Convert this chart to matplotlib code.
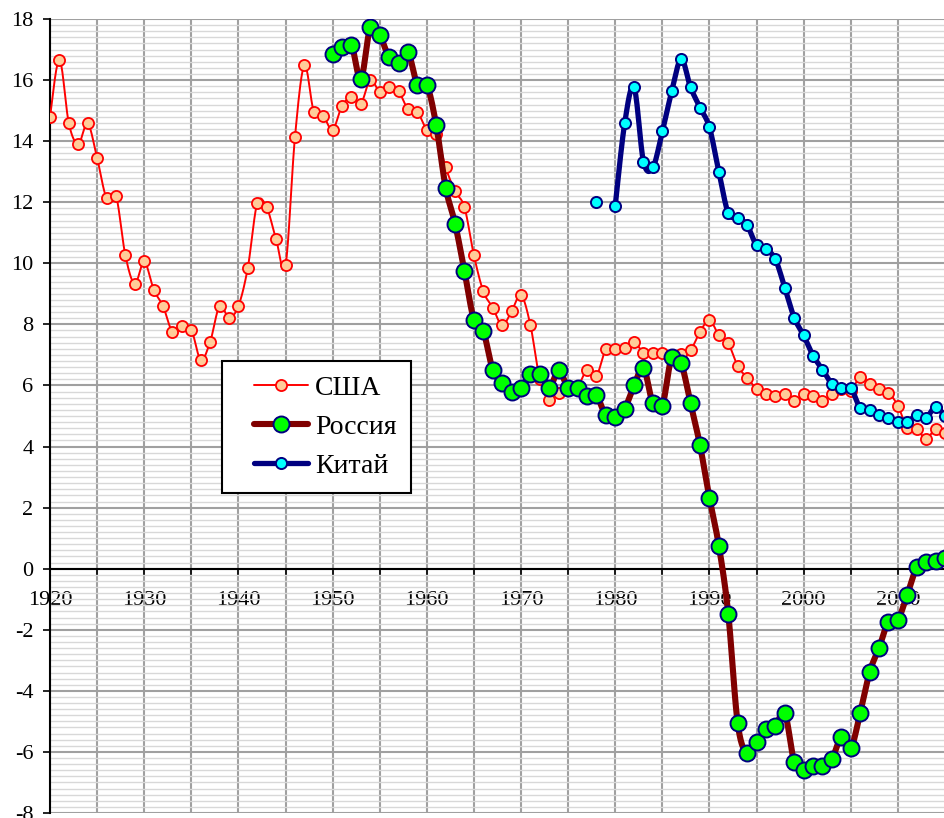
import numpy as np
import matplotlib
matplotlib.use("Agg")
import matplotlib.pyplot as plt
from matplotlib.lines import Line2D
from matplotlib.legend_handler import HandlerLine2D

plt.rcParams['font.family'] = ['Liberation Serif', 'DejaVu Serif']
plt.rcParams['axes.unicode_minus'] = False

# ---------------- data ----------------
years = list(range(1920, 2016))

usa = [14.8, 16.67, 14.58, 13.91, 14.58, 13.45, 12.14, 12.22, 10.26, 9.33,
       10.06, 9.14, 8.6, 7.76, 7.96, 7.83, 6.84, 7.43, 8.6, 8.22,
       8.6, 9.86, 11.97, 11.83, 10.79, 9.93, 14.12, 16.48, 14.97, 14.83,
       14.37, 15.16, 15.43, 15.23, 16.01, 15.62, 15.76, 15.63, 15.05, 14.96,
       14.37, 14.23, 13.14, 12.36, 11.83, 10.26, 9.08, 8.55, 7.97, 8.43,
       8.96, 7.97, 6.2, 5.54, 5.74, 5.85, 5.95, 6.5, 6.31, 7.18,
       7.2, 7.24, 7.43, 7.07, 7.07, 7.07, 7.0, 7.02, 7.16, 7.76,
       8.15, 7.64, 7.38, 6.64, 6.25, 5.89, 5.73, 5.67, 5.73, 5.48,
       5.73, 5.67, 5.48, 5.73, 5.9, 5.83, 6.27, 6.06, 5.87, 5.76,
       5.34, 4.61, 4.58, 4.25, 4.58, 4.43]

nan = np.nan
russia = [nan] * 30 + [
    16.87, 17.07, 17.15, 16.03, 17.73, 17.48, 16.74, 16.55, 16.91, 15.84,
    15.84, 14.52, 12.48, 11.3, 9.74, 8.15, 7.77, 6.52, 6.07, 5.79,
    5.92, 6.38, 6.38, 5.92, 6.49, 5.92, 5.92, 5.67, 5.68, 5.02,
    4.96, 5.24, 6.0, 6.58, 5.41, 5.34, 6.93, 6.72, 5.41, 4.04,
    2.32, 0.75, -1.48, -5.06, -6.04, -5.66, -5.26, -5.14, -4.73, -6.32,
    -6.59, -6.46, -6.46, -6.24, -5.52, -5.88, -4.73, -3.39, -2.6, -1.73,
    -1.67, -0.85, 0.04, 0.21, 0.24, 0.35]

china = [nan] * 58 + [
    12.02, nan,
    11.88, 14.58, 15.76, 13.33, 13.14, 14.32, 15.63, 16.69, 15.76, 15.1,
    14.45, 13.0, 11.64, 11.5, 11.25, 10.59, 10.46, 10.13, 9.2, 8.22,
    7.64, 6.98, 6.52, 6.06, 5.92, 5.92, 5.27, 5.21, 5.02, 4.94,
    4.81, 4.81, 5.02, 4.94, 5.3, 4.99]

labels = ['США', 'Россия', 'Китай']
xtick_years = list(range(1920, 2015, 5))
yticks = list(range(-8, 19, 2))


# ------------- smoothing (Excel-like Catmull-Rom) -------------
def smooth_segments(x, y, n=16):
    x = np.asarray(x, float)
    y = np.asarray(y, float)
    ok = ~np.isnan(y)
    segs = []
    i = 0
    N = len(x)
    while i < N:
        if not ok[i]:
            i += 1
            continue
        j = i
        while j + 1 < N and ok[j + 1]:
            j += 1
        segs.append((x[i:j + 1], y[i:j + 1]))
        i = j + 1
    out = []
    for sx, sy in segs:
        if len(sx) < 2:
            continue
        P = np.column_stack([sx, sy])
        m = len(P)
        xs, ys = [], []
        for k in range(m - 1):
            p0 = P[k - 1] if k > 0 else P[k]
            p1 = P[k]
            p2 = P[k + 1]
            p3 = P[k + 2] if k + 2 < m else P[k + 1]
            c1 = p1 + (p2 - p0) / 6.0
            c2 = p2 - (p3 - p1) / 6.0
            t = np.linspace(0, 1, n, endpoint=(k == m - 2))
            b = ((1 - t) ** 3)[:, None] * p1 + (3 * (1 - t) ** 2 * t)[:, None] * c1 \
                + (3 * (1 - t) * t ** 2)[:, None] * c2 + (t ** 3)[:, None] * p2
            xs.extend(b[:, 0]); ys.extend(b[:, 1])
        out.append((np.array(xs), np.array(ys)))
    return out


class ShiftedHandler(HandlerLine2D):
    """Legend handle whose line starts a bit to the right inside its box."""
    def __init__(self, shift_px=13, **kw):
        super().__init__(**kw)
        self.shift_px = shift_px

    def get_xdata(self, legend, xdescent, ydescent, width, height, fontsize):
        x0 = -xdescent + self.shift_px
        x1 = -xdescent + width
        xdata = np.array([x0, x1])
        return xdata, np.array([(x0 + x1) / 2.0])


# ---------------- figure ----------------
fig = plt.figure(figsize=(9.44, 8.18), dpi=100)
fig.patch.set_facecolor('white')
ax = fig.add_axes([50 / 944, 5 / 818, 894 / 944, 794 / 818])

ax.set_xlim(1920, 2014.9)
ax.set_ylim(-8, 18)

styles = {
    'США': dict(lc='#ff0000', lw=1.4, mfc='#ffcc99', mec='#ff0000', ms=8, mew=1.3, z=3),
    'Россия': dict(lc='#800000', lw=4.4, mfc='#00ff00', mec='#000080', ms=11.5, mew=1.4, z=4),
    'Китай': dict(lc='#000080', lw=3.8, mfc='#00ffff', mec='#000080', ms=8, mew=1.4, z=5),
}

for name, data in zip(labels, [usa, russia, china]):
    s = styles[name]
    for sx, sy in smooth_segments(years, data):
        ax.plot(sx, sy, color=s['lc'], lw=s['lw'], zorder=s['z'],
                solid_capstyle='round', solid_joinstyle='round')
    ax.plot(years, data, linestyle='none', marker='o', ms=s['ms'],
            mfc=s['mfc'], mec=s['mec'], mew=s['mew'], zorder=s['z'] + 0.5)

# grid
ax.set_yticks(yticks)
ax.set_yticks(np.arange(-8, 18.01, 0.2), minor=True)
ax.set_xticks(xtick_years)
ax.set_xticklabels([str(y) if y % 10 == 0 else '' for y in xtick_years])
ax.grid(which='major', color='#a0a0a0', lw=1.5, zorder=0)
ax.grid(which='minor', axis='y', color='#d8d8d8', lw=1.0, zorder=0)
ax.set_axisbelow(True)

# spines
for sp in ['top', 'right']:
    ax.spines[sp].set_visible(False)
ax.spines['bottom'].set_position(('data', 0))
ax.spines['bottom'].set_linewidth(1.5)
ax.spines['left'].set_linewidth(1.5)
ax.spines['bottom'].set_zorder(2.5)

ax.tick_params(axis='y', which='major', direction='out', length=5, width=1.2,
               pad=7, labelsize=16, colors='black')
ax.tick_params(axis='y', which='minor', length=0)
ax.tick_params(axis='x', which='major', direction='out', length=4, width=1.2,
               pad=12, labelsize=16, colors='black')

# legend
handles = []
for name in labels:
    s = styles[name]
    handles.append(Line2D([0], [0], color=s['lc'], lw=s['lw'], marker='o',
                          ms=s['ms'], mfc=s['mfc'], mec=s['mec'], mew=s['mew'],
                          solid_capstyle='round'))
leg = ax.legend(handles, labels, loc='upper left', bbox_to_anchor=(0.1924, 0.569),
                borderaxespad=0, frameon=True, fancybox=False, framealpha=1,
                edgecolor='black', prop={'family': 'Liberation Serif', 'size': 20},
                handlelength=2.6, handletextpad=0.26, borderpad=0.5, labelspacing=0.5,
                handler_map={Line2D: ShiftedHandler(shift_px=13)})
leg.get_frame().set_linewidth(1.5)
leg.set_zorder(10)

fig.savefig('out.png', dpi=100, facecolor='white')
